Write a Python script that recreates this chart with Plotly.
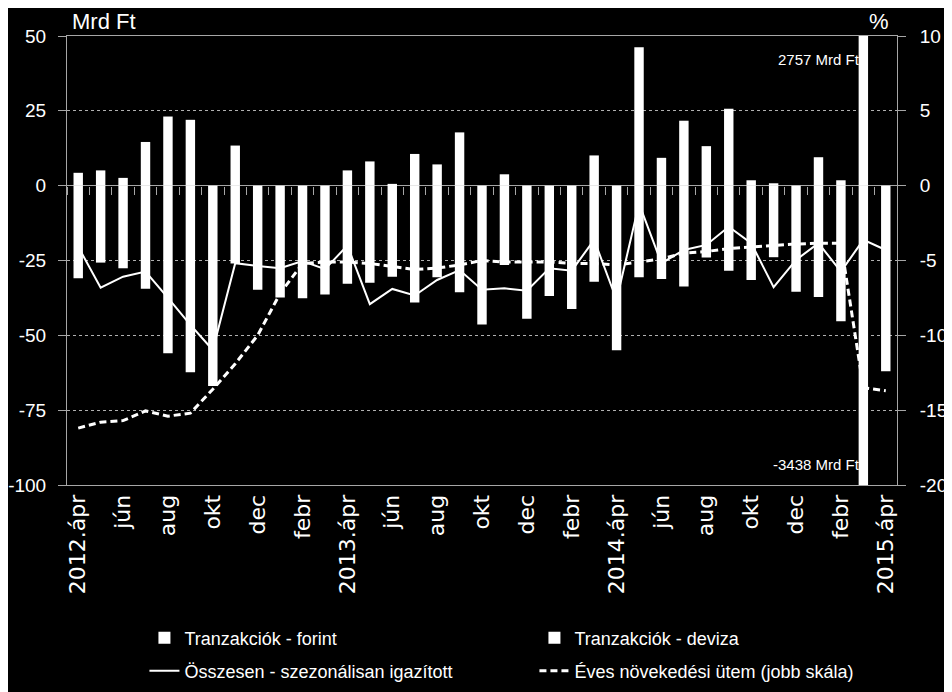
import plotly.graph_objects as go

months = ["ápr", "máj", "jún", "júl", "aug", "szept", "okt", "nov", "dec", "jan", "febr", "márc"]
categories = []
year = 2012
for i in range(37):
    m = months[i % 12]
    if m == "jan":
        year += 1
    categories.append(f"{year}.{m}")

tick_vals = categories[::2]
tick_text = ["2012.ápr", "jún", "aug", "okt", "dec", "febr",
             "2013.ápr", "jún", "aug", "okt", "dec", "febr",
             "2014.ápr", "jún", "aug", "okt", "dec", "febr",
             "2015.ápr"]

left_ticks = [-100, -75, -50, -25, 0, 25, 50]
left_text = ["-100", "-75", "-50", "-25", "0", "25", "50"]
right_ticks = [-20, -15, -10, -5, 0, 5, 10]
right_text = ["-20", "-15", "-10", "-5", "0", "5", "10"]

forint = [4.3, 5.1, 2.6, 14.6, 23.1, 22.0, 0, 13.4, 0, 0, 0, 0,
          5.1, 8.1, 0.6, 10.6, 7.1, 17.8, 0, 3.8, 0, 0, 0, 10.1,
          0, 46.2, 9.3, 21.7, 13.2, 25.7, 1.8, 0.8, 0, 9.5, 1.8, 2757, 0]
deviza = [-30.9, -25.7, -27.6, -34.4, -56.0, -62.3, -66.9, -26.0, -34.8, -37.4, -37.6, -36.4,
          -32.8, -32.4, -30.4, -39.0, -30.6, -35.6, -46.4, -26.5, -44.5, -36.9, -41.2, -32.1,
          -55.0, -30.6, -31.2, -33.7, -24.0, -28.4, -31.5, -23.9, -35.4, -37.2, -45.3, -3438, -62.0]
osszesen = [-20.4, -34.1, -30.4, -28.7, -37.5, -46.5, -54.9, -25.9, -26.8, -27.6, -25.2, -27.9,
            -20.0, -39.6, -34.5, -36.7, -31.5, -28.2, -34.8, -34.3, -35.1, -27.6, -28.4, -18.1,
            -38.2, -6.0, -25.9, -21.5, -19.8, -13.7, -19.2, -33.9, -24.8, -19.2, -28.7, -18.1, -21.5]
eves = [-16.2, -15.8, -15.7, -15.05, -15.4, -15.2, -13.6, -11.9, -10.0, -7.2, -5.2, -5.1,
        -5.1, -5.2, -5.4, -5.6, -5.5, -5.3, -5.0, -5.1, -5.1, -5.1, -5.2, -5.2,
        -5.3, -5.1, -4.9, -4.5, -4.4, -4.2, -4.1, -4.0, -3.9, -3.85, -3.85, -13.5, -13.7]

FONT = "Liberation Sans, Arial, sans-serif"
GRID = "#b0b0b0"
LINE = "#a6a6a6"

fig = go.Figure()
fig.add_trace(go.Bar(x=categories, y=forint, name="Tranzakciók - forint", legend="legend",
                     marker=dict(color="white", line=dict(width=0)), xaxis="x", yaxis="y"))
fig.add_trace(go.Bar(x=categories, y=deviza, name="Tranzakciók - deviza", legend="legend",
                     marker=dict(color="white", line=dict(width=0)), xaxis="x", yaxis="y"))
fig.add_trace(go.Scatter(x=categories, y=osszesen, name="Összesen - szezonálisan igazított",
                         legend="legend2", mode="lines", line=dict(color="white", width=2),
                         xaxis="x2", yaxis="y"))
fig.add_trace(go.Scatter(x=categories, y=eves, name="Éves növekedési ütem (jobb skála)",
                         legend="legend2", mode="lines",
                         line=dict(color="white", width=3, dash="7px,4px"),
                         xaxis="x", yaxis="y2"))

legend_common = dict(orientation="h", xanchor="left", yanchor="middle",
                     entrywidth=345, entrywidthmode="pixels", traceorder="normal",
                     font=dict(family=FONT, size=18, color="white"), bgcolor="rgba(0,0,0,0)")

xr = [-0.5, len(categories) - 0.5]
fig.update_layout(
    width=944, height=684,
    paper_bgcolor="black", plot_bgcolor="black",
    margin=dict(l=59, r=55, t=28, b=207, autoexpand=False),
    barmode="relative", bargap=0.58,
    font=dict(family=FONT, color="white", size=18),
    xaxis=dict(type="category", categoryarray=categories, range=xr, automargin=False,
               tickmode="array", tickvals=tick_vals, ticktext=tick_text,
               tickangle=-90, tickfont=dict(family="DejaVu Sans", size=22, color="white"),
               showgrid=False, showline=True, linecolor=LINE, linewidth=1, mirror=True,
               ticks="", zeroline=False),
    xaxis2=dict(type="category", categoryarray=categories, range=xr, overlaying="x",
                anchor="free", position=2/3, tickmode="linear", dtick=1, tickson="boundaries",
                ticks="outside", ticklen=8, tickcolor=LINE, showticklabels=False,
                showgrid=False, showline=False, zeroline=False, automargin=False),
    yaxis=dict(range=[-100, 50], tickmode="array", tickvals=left_ticks, ticktext=left_text,
               showgrid=True, gridcolor=GRID, griddash="dot", gridwidth=1,
               zeroline=True, zerolinecolor=LINE, zerolinewidth=1,
               showline=True, linecolor=LINE, linewidth=1, automargin=False,
               ticks="outside", ticklen=8, tickcolor=LINE, ticklabelstandoff=8,
               tickfont=dict(family=FONT, size=19, color="white")),
    yaxis2=dict(range=[-20, 10], tickmode="array", tickvals=right_ticks, ticktext=right_text,
                overlaying="y", side="right", showgrid=False, zeroline=False,
                showline=True, linecolor=LINE, linewidth=1, automargin=False,
                ticks="outside", ticklen=8, tickcolor=LINE, ticklabelstandoff=10,
                tickfont=dict(family=FONT, size=19, color="white")),
    legend=dict(x=0.0933, y=-0.3408, **legend_common),
    legend2=dict(x=0.0933, y=-0.4143, **legend_common),
    showlegend=True,
    annotations=[
        dict(text="Mrd Ft", xref="paper", yref="paper", x=0.004, y=1.0, xanchor="left",
             yanchor="bottom", showarrow=False, font=dict(family=FONT, size=22, color="white")),
        dict(text="%", xref="paper", yref="paper", x=0.993, y=1.0, xanchor="right",
             yanchor="bottom", showarrow=False, font=dict(family=FONT, size=22, color="white")),
        dict(text="2757 Mrd Ft", xref="x", yref="y", x=categories[35], y=42, xanchor="right",
             xshift=-1, showarrow=False, font=dict(family=FONT, size=15, color="white")),
        dict(text="-3438 Mrd Ft", xref="x", yref="y", x=categories[35], y=-93.3, xanchor="right",
             xshift=-1, showarrow=False, font=dict(family=FONT, size=15, color="white")),
    ],
)

fig.write_html("out.html")
